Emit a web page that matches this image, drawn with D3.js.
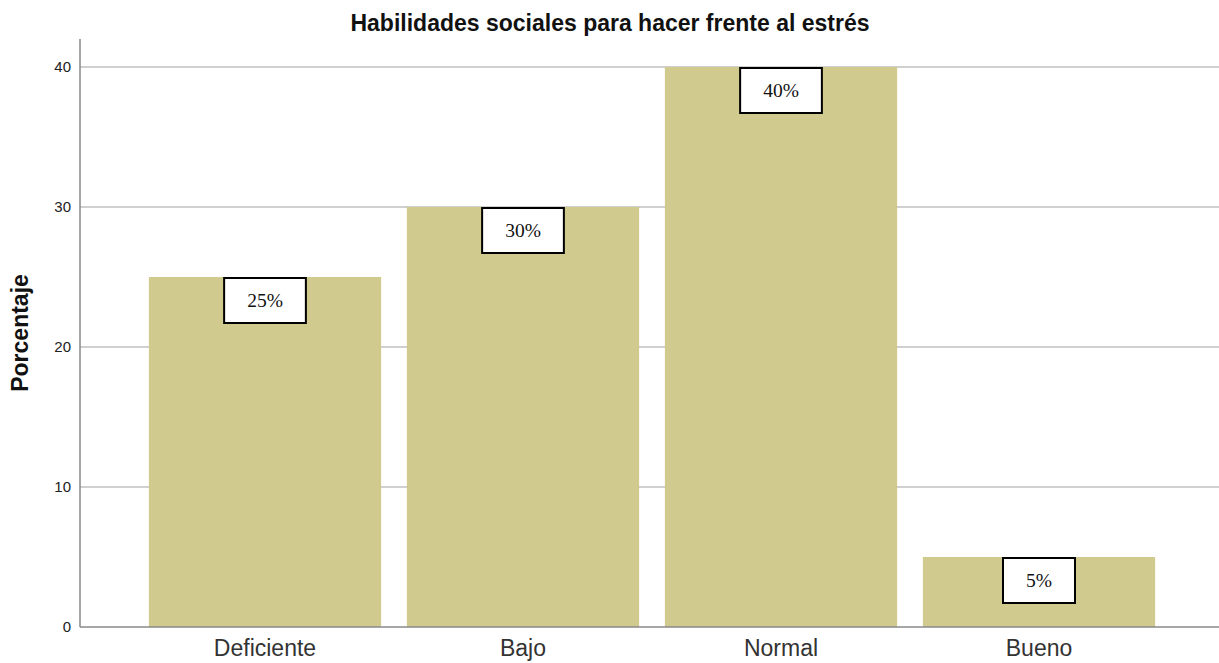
<!DOCTYPE html>
<html>
<head>
<meta charset="utf-8">
<script src="https://cdn.jsdelivr.net/npm/d3@7/dist/d3.min.js"></script>
<style>
  html, body { margin: 0; padding: 0; background: #fff; }
  svg { display: block; }
</style>
</head>
<body>
<svg id="chart" width="1219" height="663"></svg>
<script>
// Data
const categories = ["Deficiente", "Bajo", "Normal", "Bueno"];
const percentages = [25, 30, 40, 5];
const yTicks = [0, 10, 20, 30, 40];
const chartTitle = "Habilidades sociales para hacer frente al estrés";
const yTitle = "Porcentaje";

const W = 1219, H = 663;
const svg = d3.select("#chart");

const x = d3.scaleBand()
  .domain(categories)
  .range([136, 1168])
  .paddingInner(0.1)
  .paddingOuter(0.05);

const y = d3.scaleLinear()
  .domain([0, 42])
  .range([627, 39]);

const plotLeft = 80, plotRight = W;

// Gridlines
svg.append("g")
  .selectAll("line")
  .data(yTicks.filter(d => d > 0))
  .join("line")
  .attr("x1", plotLeft)
  .attr("x2", plotRight)
  .attr("y1", d => y(d))
  .attr("y2", d => y(d))
  .attr("stroke", "#d0d0d0")
  .attr("stroke-width", 2);

// Bars
svg.append("g")
  .selectAll("rect")
  .data(categories)
  .join("rect")
  .attr("x", d => x(d))
  .attr("width", x.bandwidth())
  .attr("y", (d, i) => y(percentages[i]))
  .attr("height", (d, i) => y(0) - y(percentages[i]))
  .attr("fill", "#d0ca8e");

// Y axis
const yAxis = d3.axisLeft(y).tickValues(yTicks).tickSize(0).tickPadding(9);
const gy = svg.append("g")
  .attr("transform", `translate(${plotLeft},0)`)
  .call(yAxis);
gy.select(".domain").remove();
gy.selectAll("text")
  .attr("font-family", "Liberation Sans, Arial, sans-serif")
  .attr("font-size", 15)
  .attr("fill", "#222");

svg.append("line")
  .attr("x1", plotLeft).attr("x2", plotLeft)
  .attr("y1", y(42)).attr("y2", y(0))
  .attr("stroke", "#888").attr("stroke-width", 1.5);

// X axis
const xAxis = d3.axisBottom(x).tickSize(0).tickPadding(13);
const gx = svg.append("g")
  .attr("transform", `translate(0,${y(0)})`)
  .call(xAxis);
gx.select(".domain").remove();
gx.selectAll("text")
  .attr("font-family", "Liberation Sans, Arial, sans-serif")
  .attr("font-size", 23)
  .attr("fill", "#333");

svg.append("line")
  .attr("x1", plotLeft).attr("x2", plotRight)
  .attr("y1", y(0)).attr("y2", y(0))
  .attr("stroke", "#888").attr("stroke-width", 1.5);

// Value labels in boxes
const labels = svg.append("g")
  .selectAll("g")
  .data(categories)
  .join("g")
  .attr("transform", (d, i) => `translate(${x(d) + x.bandwidth() / 2}, ${y(percentages[i]) + 23})`);

labels.each(function(d, i) {
  const g = d3.select(this);
  const t = g.append("text")
    .attr("text-anchor", "middle")
    .attr("dy", "0.35em")
    .attr("font-family", "Liberation Serif, Times New Roman, serif")
    .attr("font-size", 19.5)
    .attr("fill", "#111")
    .text(percentages[i] + "%");
  const bw = t.node().getBBox().width + 46;
  g.insert("rect", "text")
    .attr("x", -bw / 2)
    .attr("y", -22)
    .attr("width", bw)
    .attr("height", 45)
    .attr("fill", "#fff")
    .attr("stroke", "#000")
    .attr("stroke-width", 2);
});

// Title
svg.append("text")
  .attr("x", 610)
  .attr("y", 31)
  .attr("text-anchor", "middle")
  .attr("font-family", "Liberation Sans, Arial, sans-serif")
  .attr("font-weight", "bold")
  .attr("font-size", 23)
  .attr("fill", "#111")
  .text(chartTitle);

// Y axis title
svg.append("text")
  .attr("transform", `translate(28, ${(y(0) + y(42)) / 2}) rotate(-90)`)
  .attr("text-anchor", "middle")
  .attr("font-family", "Liberation Sans, Arial, sans-serif")
  .attr("font-weight", "bold")
  .attr("font-size", 23)
  .attr("fill", "#111")
  .text(yTitle);
</script>
</body>
</html>
